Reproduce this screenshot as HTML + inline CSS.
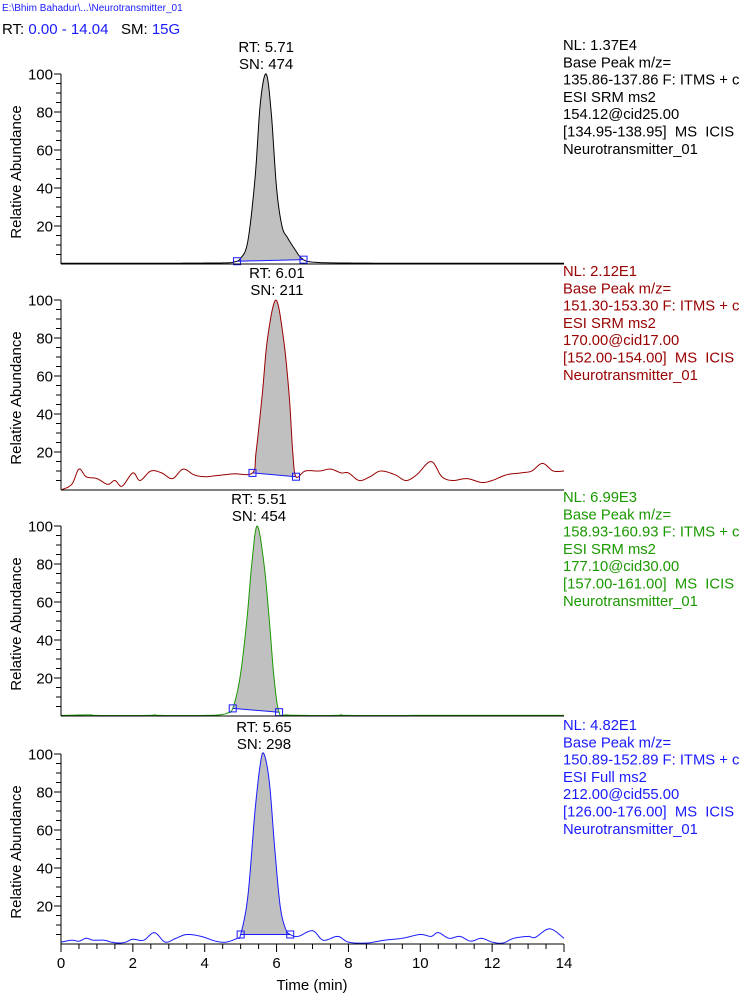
<!DOCTYPE html>
<html><head><meta charset="utf-8"><style>
body{margin:0;background:#fff;}
svg{display:block;font-family:"Liberation Sans",Arial,sans-serif;}
text{white-space:pre;}
</style></head><body>
<svg id="chart" width="751" height="994" viewBox="0 0 751 994" xml:space="preserve">
<text x="2" y="11" font-size="10" fill="#1a1aff">E:\Bhim Bahadur\...\Neurotransmitter_01</text>
<text x="2" y="34" font-size="15" fill="#000">RT: <tspan fill="#1a1aff">0.00 - 14.04</tspan>   SM: <tspan fill="#1a1aff">15G</tspan></text>
</svg>
<script>
const xTicks=[0,2,4,6,8,10,12,14];
const yTicks=[20,40,60,80,100];
const t1=[0,1,2,3,4,4.6,4.8,5.0,5.2,5.4,5.55,5.71,5.85,6.0,6.15,6.3,6.5,6.7,7.0,8,10,12,14];
const v1=[0.4,0.4,0.4,0.4,0.5,0.6,1,3,12,45,85,100,80,40,20,14,8,3,1,0.5,0.4,0.4,0.4];
const t2=[0,0.3,0.5,0.7,1.0,1.3,1.5,1.7,2.0,2.2,2.5,2.8,3.1,3.4,3.7,4.0,4.3,4.8,5.33,5.43,5.6,5.75,5.98,6.19,6.35,6.45,6.54,6.8,7.2,7.5,7.8,8.0,8.3,8.6,8.9,9.3,9.6,9.9,10.3,10.6,10.9,11.3,11.7,12.0,12.4,12.8,13.1,13.4,13.7,14];
const v2=[0,3,11,7,6,3,5,2,9,5,10,9,6,11,8,7,7.5,8.5,9,20,50,80,100,80,50,20,7,10,10,11,9,9,5,7,10,8,5,8,15,7,5,6,4,5,8,9,10,14,10,10];
const t3=[0,0.8,1.0,2.4,2.6,2.8,4.0,4.4,4.62,4.78,4.98,5.17,5.31,5.46,5.65,5.8,5.93,6.07,6.3,7.6,7.8,8.0,10,12,14];
const v3=[0.3,0.6,0.3,0.3,0.6,0.3,0.3,0.6,1.5,4,20,50,80,100,80,50,20,2,0.5,0.3,0.6,0.3,0.3,0.3,0.3];
const t4=[0,0.3,0.5,0.7,0.9,1.2,1.4,1.6,1.8,2.0,2.3,2.6,2.9,3.2,3.5,3.9,4.3,4.6,4.9,5.0,5.2,5.4,5.55,5.65,5.8,5.95,6.1,6.25,6.38,6.6,7.0,7.3,7.7,8.0,8.5,9.0,9.5,10.0,10.3,10.5,10.8,11.1,11.4,11.7,12.0,12.3,12.6,13.0,13.2,13.6,14];
const v4=[1,2,1.5,3,2,2,1,0.5,1,2.5,2,6,1,3,5,4,1.5,1,3,5,25,70,95,100,85,50,20,8,5,4,7,2,4,1,0.5,2,3,5,4,6,3,4,1.5,3,1,0.5,3,4,3.5,8,3];
const rtLabels=["5.71","6.01","5.51","5.65"];
const snLabels=["474","211","454","298"];
const peakT=[5.71,6.01,5.51,5.65];
const markStart=[4.9,5.33,4.78,5.0];
const markEnd=[6.75,6.54,6.07,6.38];
const colors=["#000000","#990000","#1a9900","#1a1aff"];
const infoLines=[
["NL: 1.37E4","Base Peak m/z=","135.86-137.86 F: ITMS + c","ESI SRM ms2","154.12@cid25.00","[134.95-138.95]  MS  ICIS","Neurotransmitter_01"],
["NL: 2.12E1","Base Peak m/z=","151.30-153.30 F: ITMS + c","ESI SRM ms2","170.00@cid17.00","[152.00-154.00]  MS  ICIS","Neurotransmitter_01"],
["NL: 6.99E3","Base Peak m/z=","158.93-160.93 F: ITMS + c","ESI SRM ms2","177.10@cid30.00","[157.00-161.00]  MS  ICIS","Neurotransmitter_01"],
["NL: 4.82E1","Base Peak m/z=","150.89-152.89 F: ITMS + c","ESI Full ms2","212.00@cid55.00","[126.00-176.00]  MS  ICIS","Neurotransmitter_01"]];
const series=[[t1,v1],[t2,v2],[t3,v3],[t4,v4]];
const tops=[74,300,526,754];
const NS="http://www.w3.org/2000/svg";
const svg=document.getElementById('chart');
const X0=61,X1=564,H=190;
function xs(t){return X0+(X1-X0)*t/14;}
function mk(tag,attrs,parent){const e=document.createElementNS(NS,tag);for(const k in attrs)e.setAttribute(k,attrs[k]);(parent||svg).appendChild(e);return e;}
function dense(ts,vs){const out=[];for(let i=0;i<ts.length-1;i++){const p0=i>0?i-1:i,p3=i+2<ts.length?i+2:i+1;for(let s=0;s<10;s++){const u=s/10,u2=u*u,u3=u2*u;
const f=(a,b,c,d)=>0.5*((2*b)+(-a+c)*u+(2*a-5*b+4*c-d)*u2+(-a+3*b-3*c+d)*u3);
out.push([f(ts[p0],ts[i],ts[i+1],ts[p3]),f(vs[p0],vs[i],vs[i+1],vs[p3])]);}}
out.push([ts[ts.length-1],vs[vs.length-1]]);return out;}
function interp(pts,t){for(let i=0;i<pts.length-1;i++){if(pts[i][0]<=t&&pts[i+1][0]>=t){const r=(t-pts[i][0])/((pts[i+1][0]-pts[i][0])||1);return pts[i][1]+r*(pts[i+1][1]-pts[i][1]);}}return 0;}
for(let p=0;p<4;p++){
 const top=tops[p],base=top+H;const ys=v=>base-H*v/100;
 const g=mk('g',{});
 
 
 const [ts,vs]=series[p];const pts=dense(ts,vs);
 const s=markStart[p],e=markEnd[p];const vsS=interp(pts,s),vsE=interp(pts,e);
 let fd='M'+xs(s)+','+ys(vsS);pts.filter(q=>q[0]>s&&q[0]<e).forEach(q=>fd+=' L'+xs(q[0]).toFixed(2)+','+ys(q[1]).toFixed(2));
 fd+=' L'+xs(e)+','+ys(vsE)+' Z';
 const fill=mk('path',{d:fd,fill:'#c0c0c0',stroke:'none'},g);
 
 
 let d='';pts.forEach((q,i)=>{d+=(i?' L':'M')+xs(q[0]).toFixed(2)+','+Math.min(base,ys(q[1])).toFixed(2);});
 const line=mk('path',{d:d,fill:'none',stroke:colors[p],'stroke-width':1},g);
 
 
 const bl=mk('line',{x1:xs(s),y1:ys(vsS),x2:xs(e),y2:ys(vsE),stroke:'#1a1aff','stroke-width':1},g);
 
 
 [[s,vsS],[e,vsE]].forEach(m=>{const r=mk('rect',{x:xs(m[0])-3.5,y:ys(m[1])-3.5,width:7,height:7,fill:'none',stroke:'#1a1aff','stroke-width':1},g);
  
  });
 mk('line',{x1:X0,y1:top,x2:X0,y2:base,stroke:'#000'},g);
 mk('line',{x1:X0,y1:base,x2:X1,y2:base,stroke:'#000'},g);
 for(let v=5;v<=100;v+=5){const maj=v%20===0;mk('line',{x1:X0-(maj?7:5),y1:ys(v),x2:X0,y2:ys(v),stroke:'#000'},g);}
 yTicks.forEach(v=>{const tx=mk('text',{x:X0-8,y:ys(v)+5.5,'font-size':15,'text-anchor':'end'},g);tx.textContent=v;
  
  });
 const yt=mk('text',{x:0,y:0,'font-size':15,'text-anchor':'middle',transform:'translate(21,'+(top+98)+') rotate(-90)'},g);
 yt.textContent='Relative Abundance';
 
 
 const pk=xs(peakT[p]);
 const rt=mk('text',{x:pk,y:top-22,'font-size':15,'text-anchor':'middle'},g);rt.textContent='RT: '+rtLabels[p];
 
 
 const sn=mk('text',{x:pk,y:top-5,'font-size':15,'text-anchor':'middle'},g);sn.textContent='SN: '+snLabels[p];
 
 
 infoLines[p].forEach((l,i)=>{const tx=mk('text',{x:563,y:top-24+i*17.3,'font-size':14.8,fill:colors[p]},g);tx.textContent=l;
  
  });
 if(p===3){
  for(let t=0;t<=14.001;t+=0.5){const maj=Math.abs(t-Math.round(t/2)*2)<1e-6;mk('line',{x1:xs(t),y1:base,x2:xs(t),y2:base+(maj?8:5),stroke:'#000'},g);}
  xTicks.forEach(t=>{const tx=mk('text',{x:xs(t),y:base+24,'font-size':15,'text-anchor':'middle'},g);tx.textContent=t;
   
   });
  const xt=mk('text',{x:312,y:base+46,'font-size':15,'text-anchor':'middle'},g);xt.textContent='Time (min)';
  
  
 }
}
</script>
</body></html>
